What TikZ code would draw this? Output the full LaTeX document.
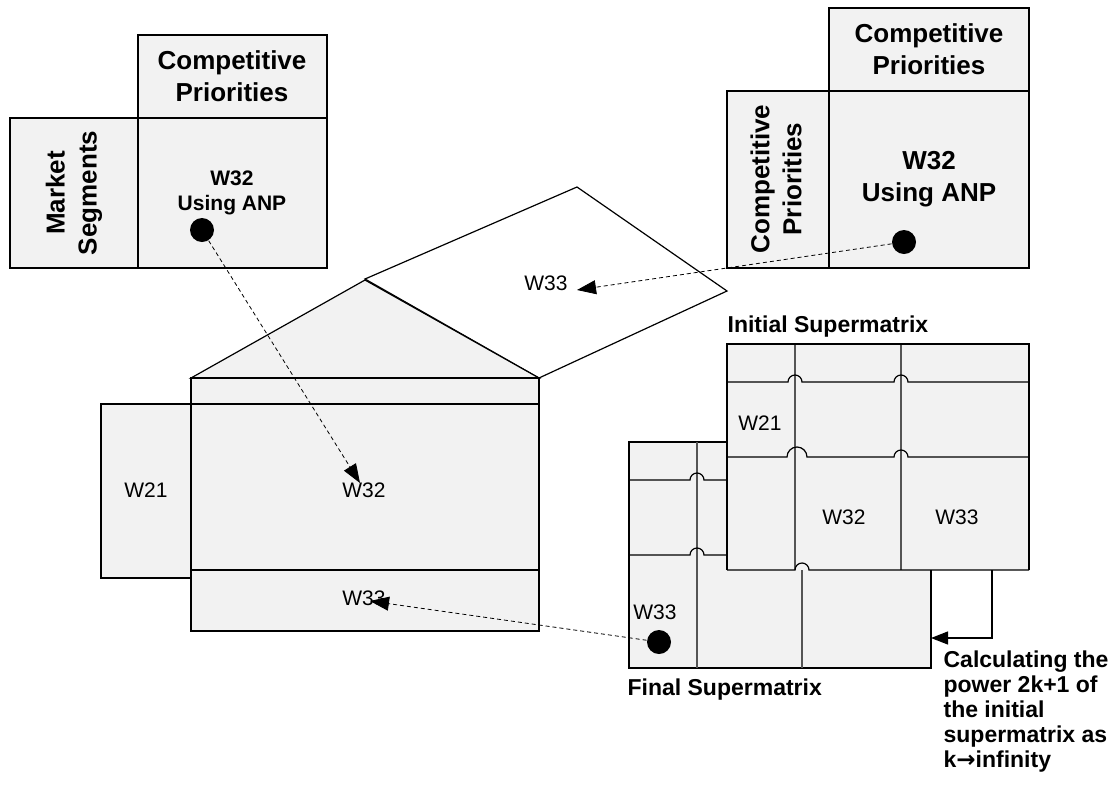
\documentclass[tikz,border=0pt]{standalone}
\usepackage{fontspec}
\setmainfont{Liberation Sans}
\newfontfamily\arrowfont{DejaVu Sans}
\usetikzlibrary{arrows.meta}
\definecolor{cellgray}{HTML}{F2F2F2}
\definecolor{colgray}{HTML}{555555}

\begin{document}
\begin{tikzpicture}[x=1pt, y=-1pt, line width=1.2pt,
  cell/.style={fill=cellgray, draw=black},
  lab/.style={font=\fontsize{21}{25}\selectfont, inner sep=0pt},
  head/.style={font=\fontsize{26}{32}\selectfont\bfseries, align=center, inner sep=0pt},
  blob/.style={circle, fill=black, minimum size=24pt, inner sep=0pt},
  link/.style={dash pattern=on 4pt off 3pt, line width=0.8pt, -{Triangle[length=19pt,width=14pt]}},
  colline/.style={draw=colgray}]
  \useasboundingbox (0,0) rectangle (1117,788);

  % Market segments matrix (top left)
  \draw[cell] (138,35) rectangle (327,118);
  \draw[cell] (10,118) rectangle (138,268);
  \draw[cell] (138,118) rectangle (327,268);
  \node[head] (cpA) at (232,76) {Competitive\\Priorities};
  \node[head, rotate=90] (ms) at (74,193) {Market\\Segments};
  \node[head, font=\fontsize{21}{25}\selectfont\bfseries] (anpA) at (232,193) {W32\\Using ANP};
  \node[blob] (dotA) at (202,230) {};

  % Competitive priorities matrix (top right)
  \draw[cell] (829,8) rectangle (1029,91);
  \draw[cell] (727,91) rectangle (829,268);
  \draw[cell] (829,91) rectangle (1029,268);
  \node[head] (cpB) at (929,49) {Competitive\\Priorities};
  \node[head, rotate=90] (cpC) at (776,179) {Competitive\\Priorities};
  \node[head] (anpB) at (929,179) {W32\\Using ANP};
  \node[blob] (dotB) at (904,242) {};

  % House of quality
  \draw[fill=white] (365,279) -- (577,187) -- (727,291) -- (539,378) -- cycle;
  \draw[cell] (191,378) -- (365,280) -- (539,378) -- cycle;
  \draw[cell] (101,404) rectangle (191,578);
  \draw[cell] (191,378) rectangle (539,631);
  \draw (191,404) -- (539,404);
  \draw (191,570) -- (539,570);
  \node[lab] (hW21) at (146,490) {W21};
  \node[lab] (hW32) at (364,490) {W32};
  \node[lab] (hW33) at (364,598) {W33};
  \node[lab] (rW33) at (546,283) {W33};

  % Final supermatrix (behind)
  \fill[cellgray] (629,442) rectangle (931,668);
  \draw (629,442) rectangle (931,668);
  \draw[colline] (697,442) -- (697,668);
  \draw[colline] (802,442) -- (802,668);
  \draw (629,480) -- (690,480) arc[start angle=180, end angle=0, radius=7pt] -- (727,480);
  \draw (629,555) -- (690,555) arc[start angle=180, end angle=0, radius=7pt] -- (727,555);
  \node[lab] (fW33) at (655,612) {W33};
  \node[blob] (dotC) at (659,642) {};
  \node[anchor=west, inner sep=0pt, font=\fontsize{23}{27}\selectfont\bfseries] (fTitle) at (627,690) {Final Supermatrix};

  % Initial supermatrix (front)
  \fill[cellgray] (727,344) rectangle (1029,570);
  \draw[colline] (795,344) -- (795,570);
  \draw[colline] (901,344) -- (901,570);
  \draw (727,570) -- (727,344) -- (1029,344) -- (1029,570);
  \draw (727,570) -- (795,570) arc[start angle=180, end angle=0, radius=7pt] -- (1029,570);
  \draw (727,382) -- (788,382) arc[start angle=180, end angle=0, radius=7pt]
    -- (894,382) arc[start angle=180, end angle=0, radius=7pt] -- (1029,382);
  \draw (727,457) -- (787,457) arc[start angle=180, end angle=0, radius=10pt]
    -- (894,457) arc[start angle=180, end angle=0, radius=7pt] -- (1029,457);
  \node[lab] (iW21) at (760,423) {W21};
  \node[lab] (iW32) at (844,517) {W32};
  \node[lab] (iW33) at (957,517) {W33};
  \node[anchor=west, inner sep=0pt, font=\fontsize{23}{27}\selectfont\bfseries] (iTitle) at (727,327) {Initial Supermatrix};

  % Power of the supermatrix
  \coordinate (loopS) at (992,570);
  \coordinate (loopE) at (931,638);
  \draw[-{Triangle[length=17pt,width=13pt]}] (loopS) |- (loopE);
  \node[anchor=north west, align=left, inner sep=0pt, font=\fontsize{23}{25}\selectfont\bfseries] (calc) at (943,650)
    {Calculating the\\power 2k+1 of\\the initial\\supermatrix as\\k{\arrowfont →}infinity};

  % Dashed links
  \coordinate (tipA) at (360,483);
  \coordinate (tipB) at (577,290);
  \coordinate (tipC) at (370,601);
  \draw[link] (dotA) -- (tipA);
  \draw[link] (dotB) -- (tipB);
  \draw[link] (dotC) -- (tipC);
\end{tikzpicture}
\end{document}
